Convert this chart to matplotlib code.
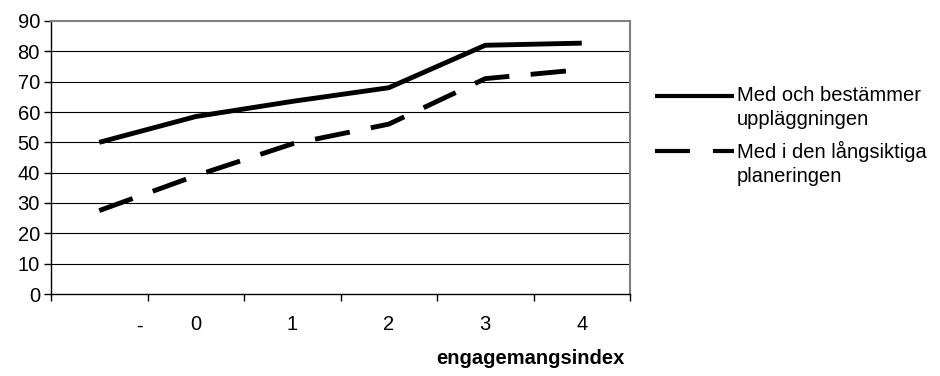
import matplotlib.pyplot as plt
from matplotlib.lines import Line2D
from matplotlib.ticker import FixedLocator, NullFormatter
from matplotlib.transforms import blended_transform_factory

plt.rcParams["font.family"] = ["Liberation Sans", "DejaVu Sans"]

categories = ["-", "0", "1", "2", "3", "4"]
bestammer = [50, 58.5, 63.5, 68, 82, 82.7]
langsiktiga = [27.5, 39, 49.5, 56, 71, 74]
series_names = ["Med och bestämmer\nuppläggningen", "Med i den långsiktiga\nplaneringen"]
yticks = list(range(0, 100, 10))

fig = plt.figure(figsize=(9.4, 3.76), dpi=100)
ax = fig.add_axes([51 / 940, 82 / 376, 579 / 940, 273 / 376])

x = list(range(len(categories)))
ax.plot(x, bestammer, color="black", lw=3.5, solid_capstyle="butt", zorder=3)
ax.plot(x, langsiktiga, color="black", lw=3.5, dashes=(7.3, 4.4), dash_capstyle="butt", zorder=3)

ax.set_xlim(-0.5, len(categories) - 0.5)
ax.set_ylim(0, 90)
ax.set_yticks(yticks)
ax.tick_params(axis="y", labelsize=14.5, length=5, width=1, direction="out", pad=3)
for y in yticks[1:-1]:
    ax.axhline(y, color="black", lw=0.8, zorder=1)

# tick marks between categories, labels at category centres
ax.xaxis.set_major_locator(FixedLocator([i - 0.5 for i in range(len(categories) + 1)]))
ax.xaxis.set_major_formatter(NullFormatter())
ax.xaxis.set_minor_locator(FixedLocator(x))
ax.set_xticklabels([""] + categories[1:], minor=True)
ax.tick_params(axis="x", which="major", length=5, width=1, direction="out")
ax.tick_params(axis="x", which="minor", length=0, labelsize=14.5, pad=15)
# the first category label sits off-centre, towards the next tick
trans = blended_transform_factory(ax.transData, ax.transAxes)
ax.text(0.42, -0.137, categories[0], transform=trans, fontsize=14.5, ha="center", va="baseline")

for side in ("top", "right"):
    ax.spines[side].set_color("#808080")
    ax.spines[side].set_linewidth(1.5)
for side in ("left", "bottom"):
    ax.spines[side].set_color("black")
    ax.spines[side].set_linewidth(1)

ax.set_xlabel("engagemangsindex", fontsize=14.5, fontweight="bold")
ax.xaxis.set_label_coords((530 - 51) / 579, -0.2)

# legend on the right
styles = [dict(), dict(dashes=(8.4, 5.5))]
for i, (name, st) in enumerate(zip(series_names, styles)):
    ly = 1 - (96 + i * 55) / 376
    fig.add_artist(Line2D([655 / 940, 734 / 940], [ly, ly], color="black", lw=3,
                          solid_capstyle="butt", dash_capstyle="butt", **st))
    fig.text(737 / 940, ly + 10 / 376, name, fontsize=14.5, va="top", ha="left", linespacing=1.35)

fig.savefig("out.png", dpi=100, facecolor="white")
